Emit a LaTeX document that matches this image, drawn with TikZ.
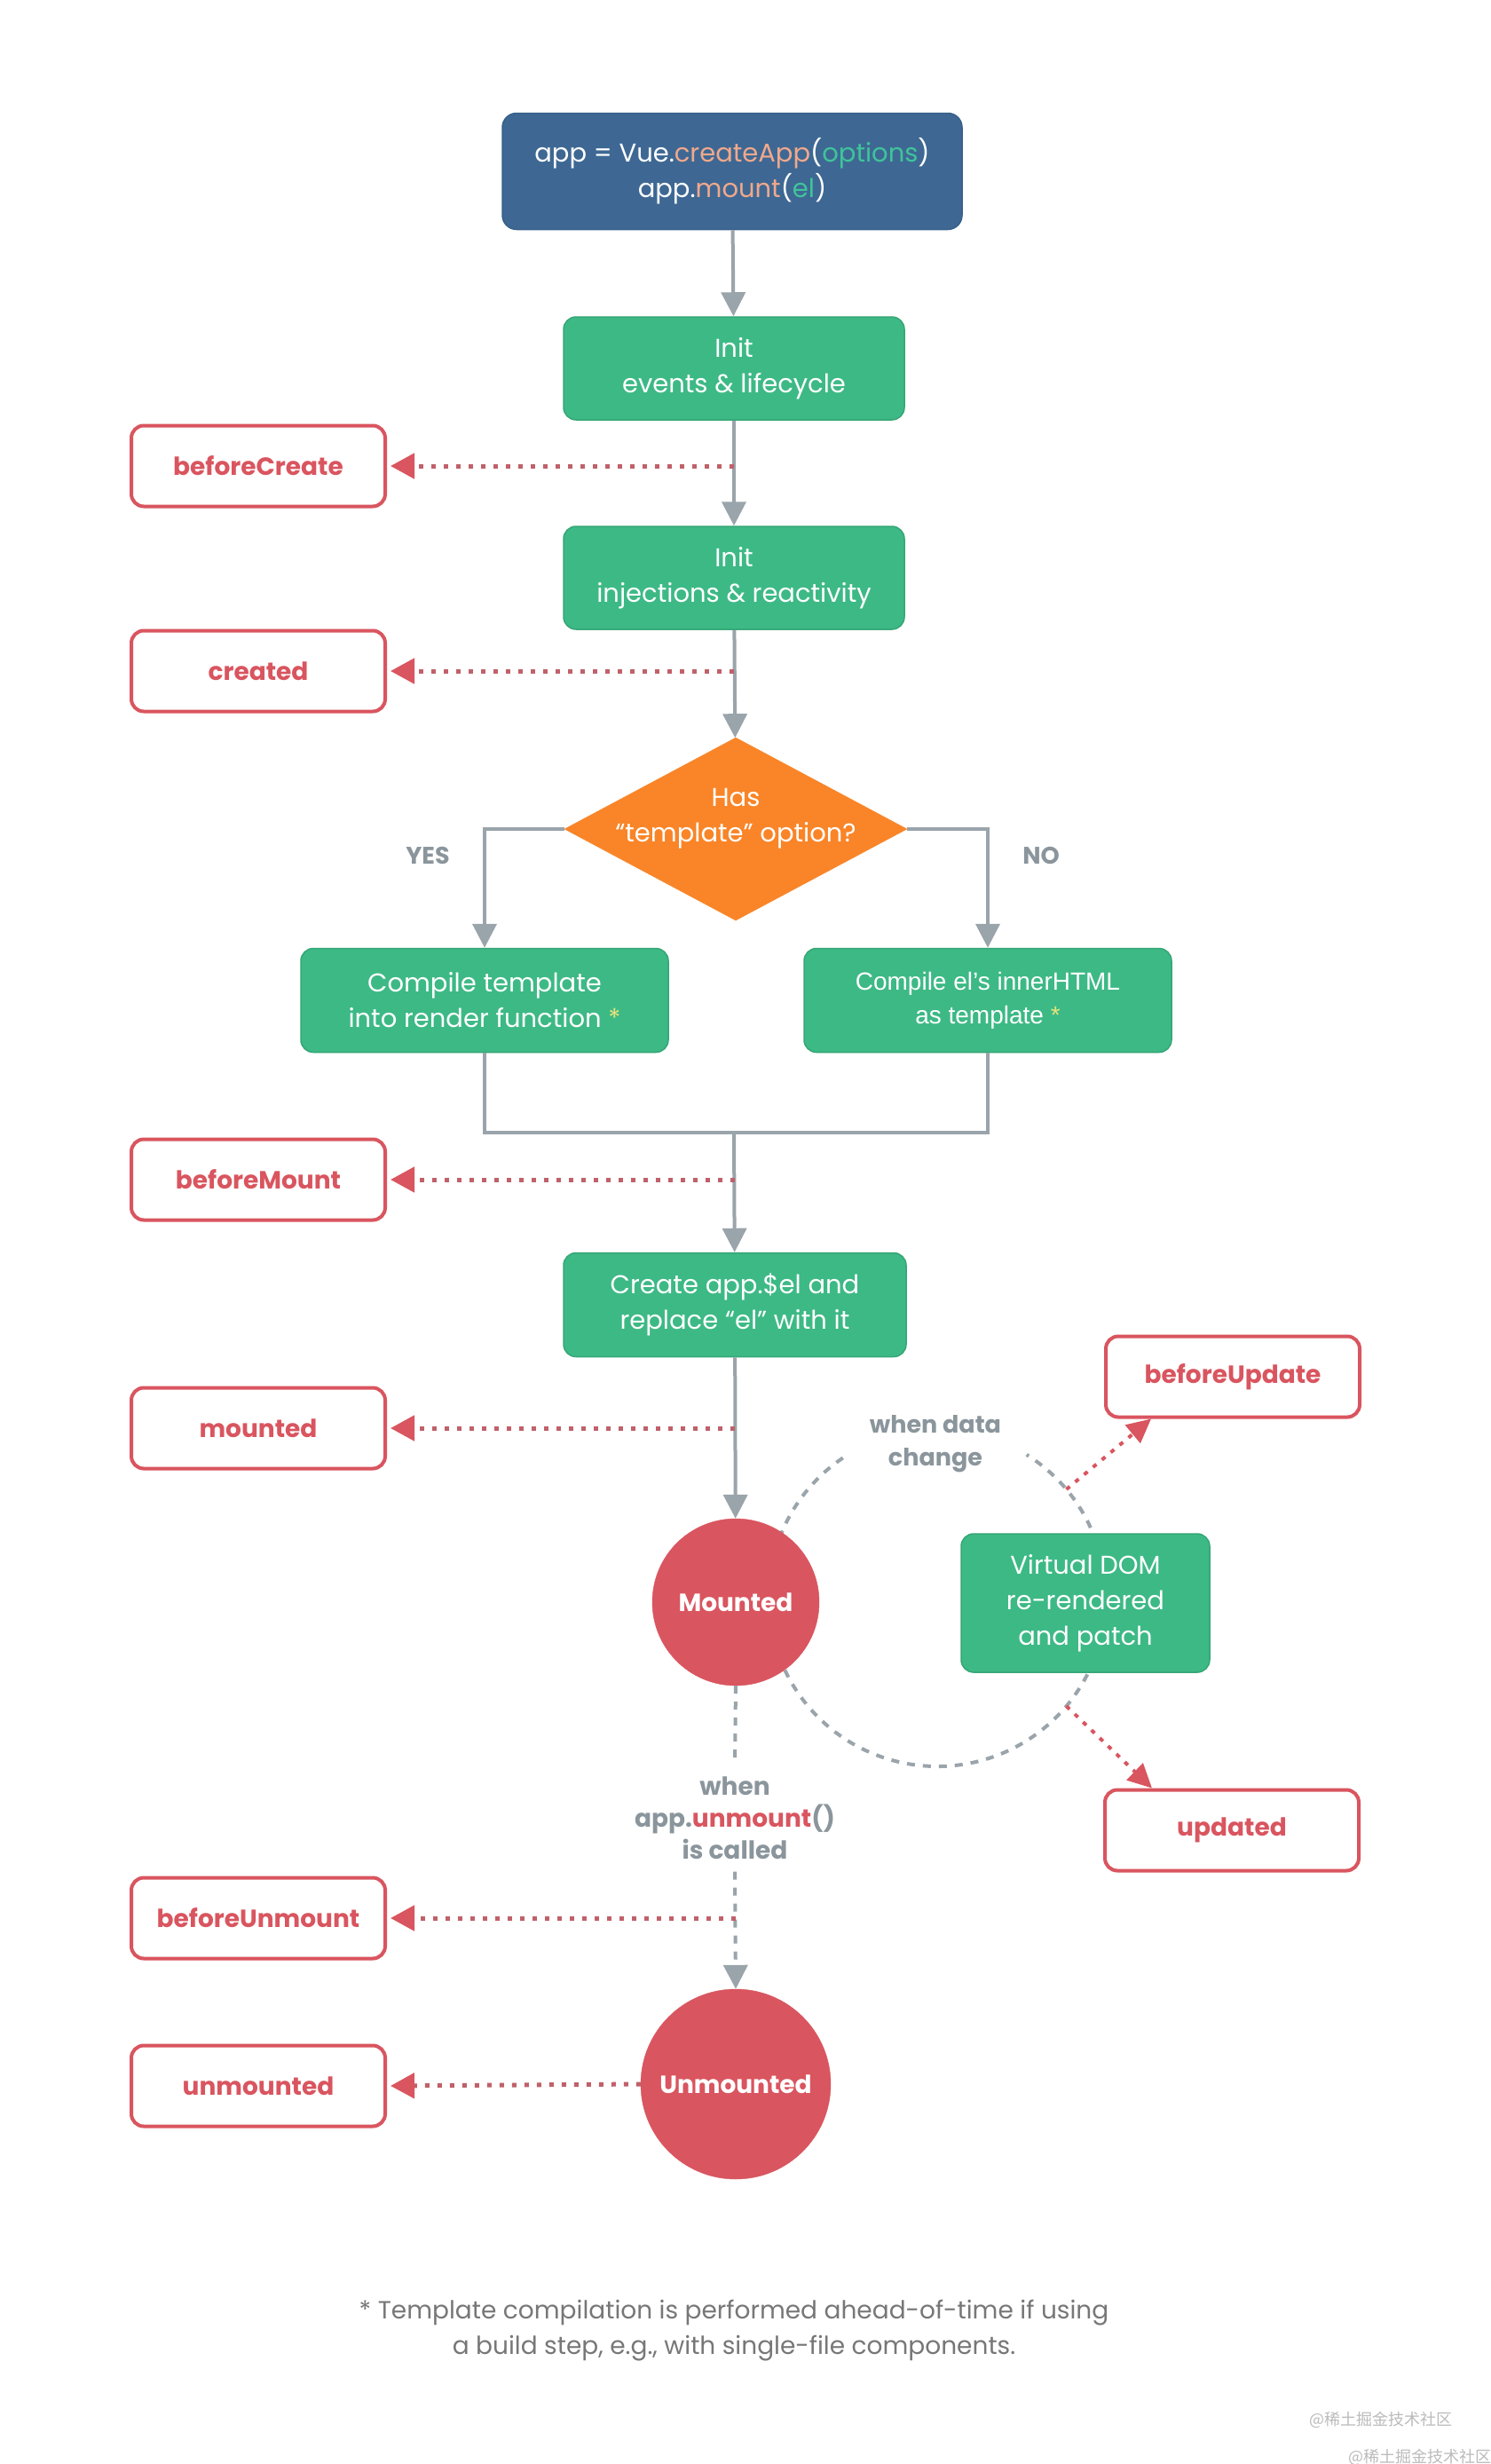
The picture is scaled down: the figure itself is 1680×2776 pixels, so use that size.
\documentclass[tikz,border=0pt]{standalone}
\usepackage{fontspec}
\setmainfont{Poppins}
\newfontfamily\arialf{Liberation Sans}
\newfontfamily\cjk{Noto Sans CJK SC}
\usetikzlibrary{shapes.geometric,arrows.meta}
\definecolor{vblue}{HTML}{3E6893}
\definecolor{vblueb}{HTML}{36608A}
\definecolor{vgreen}{HTML}{3DB985}
\definecolor{vgreenb}{HTML}{35A676}
\definecolor{vorange}{HTML}{F98528}
\definecolor{vred}{HTML}{D9555F}
\definecolor{vredd}{HTML}{C0616A}
\definecolor{vgray}{HTML}{9AA4AB}
\definecolor{vtext}{HTML}{8A959C}
\definecolor{salmon}{HTML}{F1A88C}
\definecolor{tealg}{HTML}{3FC49A}
\definecolor{starc}{HTML}{E4E37C}
\definecolor{foot}{HTML}{777777}
\definecolor{wmark}{HTML}{BBBBBB}
\begin{document}
\begin{tikzpicture}[x=1pt,y=-1pt,
  topbox/.style={draw=vblueb, line width=1.5pt, fill=vblue, rounded corners=16pt, text=white,
    minimum width=518pt, minimum height=131pt, align=center, font=\fontsize{29}{40}\selectfont},
  stepbox/.style={draw=vgreenb, line width=1.5pt, fill=vgreen, rounded corners=14pt, text=white,
    minimum width=384pt, minimum height=116pt, align=center, font=\fontsize{29}{40}\selectfont},
  hook/.style={draw=vred, line width=4pt, fill=white, rounded corners=14pt, text=vred,
    minimum width=286pt, minimum height=91pt, font=\bfseries\fontsize{28}{34}\selectfont},
  state/.style={circle, fill=vred, draw=vred, text=white, font=\bfseries\fontsize{28}{34}\selectfont, inner sep=0pt},
  flow/.style={draw=vgray, line width=4pt, -{Triangle[length=27pt,width=27pt]}},
  flowline/.style={draw=vgray, line width=4pt},
  graydash/.style={draw=vgray, line width=4pt, dash pattern=on 9pt off 9pt},
  hookarrow/.style={draw=vredd, line width=5pt, dash pattern=on 5pt off 9pt, shorten >=4pt,
    -{Triangle[length=27pt,width=28pt,color=vred]}},
  updarrow/.style={draw=vred, line width=4pt, dash pattern=on 5pt off 8pt,
    -{Triangle[length=27pt,width=26pt,color=vred]}},
  lbl/.style={text=vtext, font=\bfseries\fontsize{27}{37}\selectfont, align=center},
]
\fill[white] (0,0) rectangle (1680,2776);
\useasboundingbox (0,0) rectangle (1680,2776);

% main column
\node[topbox] (app) at (825,193) {app = Vue.{\color{salmon}createApp}({\color{tealg}options})\\app.{\color{salmon}mount}({\color{tealg}el})};
\node[stepbox] (init1) at (827,415) {Init\\events \& lifecycle};
\node[stepbox] (init2) at (827,651) {Init\\injections \& reactivity};
\node[diamond, fill=vorange, draw=vorange, aspect=1.87, minimum width=386pt, minimum height=206pt, inner sep=0pt] (dia) at (829,934) {};
\node[text=white, align=center, font=\fontsize{29}{40}\selectfont] (diat) at (829,922) {Has\\“template” option?};
\node[stepbox, minimum width=414pt, minimum height=117pt] (ct) at (546,1127) {Compile template\\into render function {\color{starc}*}};
\node[stepbox, minimum width=414pt, minimum height=117pt, font=\arialf\fontsize{28}{38}\selectfont] (ce) at (1113,1127) {Compile el’s innerHTML\\as template {\color{starc}*}};
\coordinate (m) at (827,1276);
\node[stepbox, minimum width=386pt, minimum height=117pt] (create) at (828,1470) {Create app.\$el and\\replace “el” with it};

% update loop
\coordinate (dc) at (1056,1800);
\draw[graydash] ([shift={(-124:190)}]dc) arc[start angle=-124, end angle=-418, radius=190];
\node[state, minimum size=188pt] (mounted) at (829,1805) {Mounted};
\node[stepbox, minimum width=280pt, minimum height=156pt] (vdom) at (1223,1806) {Virtual DOM\\re-rendered\\and patch};
\node[lbl] (wdc) at (1054,1627) {when data\\change};
\node[hook] (bu) at (1389,1551) {beforeUpdate};
\node[hook] (upd) at (1388,2062) {updated};
\coordinate (a1) at ([shift={(-40:190)}]dc);
\coordinate (a2) at ([shift={(40:190)}]dc);
\draw[updarrow] (a1) -- ([xshift=53pt]bu.south west);
\draw[updarrow] (a2) -- ([xshift=55pt]upd.north west);

% unmount
\node[lbl, inner sep=14pt, font=\bfseries\fontsize{28}{36}\selectfont] (wun) at (828,2048) {when\\app.{\color{vred}unmount}()\\is called};
\node[state, minimum size=214pt] (unm) at (829,2348) {Unmounted};

% hooks
\node[hook] (bc) at (291,525) {beforeCreate};
\node[hook] (cr) at (291,756) {created};
\node[hook] (bm) at (291,1329) {beforeMount};
\node[hook] (md) at (291,1609) {mounted};
\node[hook] (bum) at (291,2161) {beforeUnmount};
\node[hook] (um) at (291,2350) {unmounted};

% connectors
\draw[flow] (app) -- (init1);
\draw[flow] (init1) -- (init2);
\draw[flow] (init2) -- (dia);
\draw[flow] (dia.west) -| (ct.north);
\draw[flow] (dia.east) -| (ce.north);
\draw[flowline] (ct.south) |- (m);
\draw[flowline] (ce.south) |- (m);
\draw[flow] (m) -- (create);
\draw[flow] (create) -- (mounted);
\draw[graydash] (mounted.south) -- (wun.north);
\draw[graydash, -{Triangle[length=27pt,width=27pt]}] (wun.south) -- (unm.north);

\draw[hookarrow] (bc -| init1) -- (bc.east);
\draw[hookarrow] (cr -| init2) -- (cr.east);
\draw[hookarrow] (bm -| create) -- (bm.east);
\draw[hookarrow] (md -| create) -- (md.east);
\draw[hookarrow] (bum -| unm) -- (bum.east);
\draw[hookarrow] (unm.west) -- (um.east);

\node[lbl] (yes) at (482,964) {YES};
\node[lbl] (no) at (1173,964) {NO};

% footnote
\node[text=foot, align=center, font=\fontsize{28}{40}\selectfont] (fn) at (827,2626)
  {* Template compilation is performed ahead-of-time if using\\a build step, e.g., with single-file components.};
\node[text=wmark, font=\cjk\fontsize{18}{20}\selectfont] (wm1) at (1556,2726) {@稀土掘金技术社区};
\node[text=wmark, font=\cjk\fontsize{18}{20}\selectfont] (wm2) at (1600,2768) {@稀土掘金技术社区};
\end{tikzpicture}
\end{document}
